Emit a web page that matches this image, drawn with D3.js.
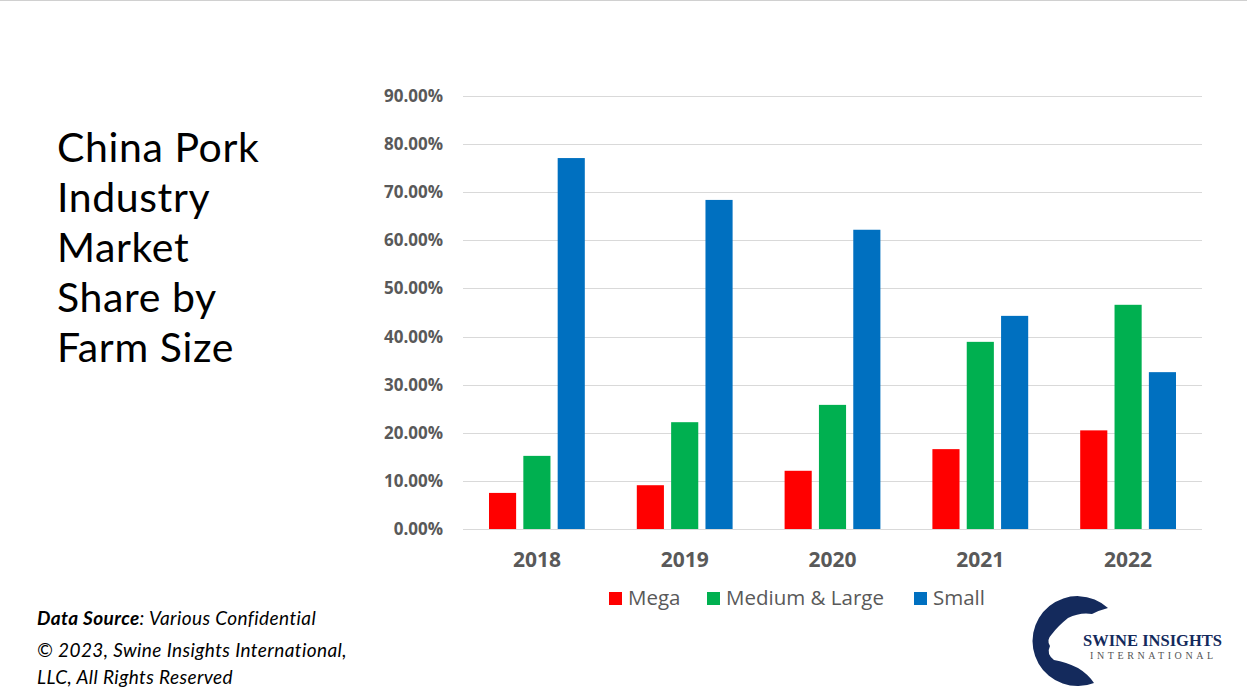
<!DOCTYPE html>
<html>
<head>
<meta charset="utf-8">
<script src="https://cdn.jsdelivr.net/npm/d3@7"></script>
<style>
  body { margin: 0; background: #fff; }
  svg { display: block; }
</style>
</head>
<body>
<svg width="1247" height="700"></svg>
<script>
// data
var years = ["2018", "2019", "2020", "2021", "2022"];
var seriesNames = ["Mega", "Medium & Large", "Small"];
var mega = [7.5, 9.1, 12.1, 16.6, 20.5];
var mediumLarge = [15.2, 22.2, 25.8, 38.9, 46.6];
var small = [77.1, 68.4, 62.2, 44.3, 32.6];
var yTicks = [0, 10, 20, 30, 40, 50, 60, 70, 80, 90];
var colors = ["#ff0000", "#00b050", "#0070c0"];

var titleLines = ["China Pork", "Industry", "Market", "Share by", "Farm Size"];

var svg = d3.select("svg");

// thin border at top
svg.append("line")
    .attr("x1", 0).attr("x2", 1247).attr("y1", 0.5).attr("y2", 0.5)
    .attr("stroke", "#d0d0d0");

// title on the left
svg.append("g").selectAll("text")
    .data(titleLines)
    .enter()
    .append("text")
    .attr("x", 57)
    .attr("y", function (d, i) { return 162 + i * 50; })
    .style("font-family", "Lato, 'Open Sans', sans-serif")
    .style("font-size", "41px")
    .style("letter-spacing", "0.6px")
    .attr("fill", "#000")
    .text(function (d) { return d; });

// chart area
var margin = { top: 96, left: 463 },
    width = 1202 - 463,
    height = 529 - 96;

var g = svg.append("g")
    .attr("transform", "translate(" + margin.left + "," + margin.top + ")");

var x0 = d3.scaleBand()
    .domain(years)
    .range([0, width])
    .paddingInner(0)
    .paddingOuter(0);

var x1 = d3.scaleBand()
    .domain(seriesNames)
    .range([26, x0.bandwidth() - 26])
    .paddingInner(0.21);

var y = d3.scaleLinear()
    .domain([0, 90])
    .range([height, 0]);

// gridlines
g.append("g")
    .selectAll("line")
    .data(yTicks)
    .enter()
    .append("line")
    .attr("x1", 0).attr("x2", width)
    .attr("y1", function (d) { return Math.round(y(d)) + 0.5; })
    .attr("y2", function (d) { return Math.round(y(d)) + 0.5; })
    .attr("stroke", "#d9d9d9")
    .attr("stroke-width", 1);

// y axis labels
var yAxis = g.append("g")
    .call(d3.axisLeft(y).tickValues(yTicks).tickSize(0).tickPadding(20)
        .tickFormat(function (d) { return d.toFixed(2) + "%"; }));
yAxis.select(".domain").remove();
yAxis.selectAll("text")
    .style("font-family", "'Open Sans', sans-serif")
    .style("font-size", "17px")
    .style("font-weight", "bold")
    .attr("fill", "#595959");

// x axis labels
var xAxis = g.append("g")
    .attr("transform", "translate(0," + height + ")")
    .call(d3.axisBottom(x0).tickSize(0).tickPadding(23));
xAxis.select(".domain").remove();
xAxis.selectAll("text")
    .style("font-family", "'Open Sans', sans-serif")
    .style("font-size", "21px")
    .style("font-weight", "bold")
    .attr("fill", "#595959");

// bars
var rows = years.map(function (yr, i) {
    return { year: yr, values: [mega[i], mediumLarge[i], small[i]] };
});

var groups = g.selectAll(".grp")
    .data(rows)
    .enter()
    .append("g")
    .attr("transform", function (d) { return "translate(" + x0(d.year) + ",0)"; });

groups.selectAll("rect")
    .data(function (d) { return d.values.map(function (v, j) { return { name: seriesNames[j], v: v, c: colors[j] }; }); })
    .enter()
    .append("rect")
    .attr("x", function (d) { return x1(d.name); })
    .attr("y", function (d) { return y(d.v); })
    .attr("width", x1.bandwidth())
    .attr("height", function (d) { return height - y(d.v); })
    .attr("fill", function (d) { return d.c; });

// legend
var legendX = [609, 707, 914];
var legend = svg.append("g").selectAll("g")
    .data(seriesNames)
    .enter()
    .append("g")
    .attr("transform", function (d, i) { return "translate(" + legendX[i] + ",592)"; });
legend.append("rect")
    .attr("width", 13).attr("height", 13)
    .attr("fill", function (d, i) { return colors[i]; });
legend.append("text")
    .attr("x", 19).attr("y", 13)
    .style("font-family", "'Open Sans', sans-serif")
    .style("font-size", "20.5px")
    .attr("fill", "#595959")
    .text(function (d) { return d; });

// footer
var foot = svg.append("g")
    .style("font-family", "Lato, 'Open Sans', sans-serif")
    .style("font-size", "19px")
    .style("font-style", "italic")
    .style("letter-spacing", "0.4px")
    .attr("fill", "#000");
var f1 = foot.append("text").attr("x", 37).attr("y", 625);
f1.append("tspan").style("font-weight", "bold").text("Data Source");
f1.append("tspan").text(": Various Confidential");
foot.append("text").attr("x", 37).attr("y", 657).text("\u00a9 2023, Swine Insights International,");
foot.append("text").attr("x", 37).attr("y", 684).text("LLC, All Rights Reserved");

// logo
var logo = svg.append("g");
logo.append("path")
    .attr("d", "M1108,608 A45,45 0 1 0 1094,683 Q1088,674 1078,668 Q1066,662 1054,660 Q1046,654 1050,646 Q1046,640 1052,634 Q1058,626 1068,618 Q1080,612 1092,614 Q1100,610 1108,608 Z")
    .attr("fill", "#142a5c");
logo.append("text")
    .attr("x", 1083).attr("y", 646)
    .style("font-family", "'Liberation Serif', serif")
    .style("font-weight", "bold")
    .style("font-size", "16.5px")
    .attr("fill", "#142a5c")
    .text("SWINE INSIGHTS");
logo.append("text")
    .attr("x", 1090).attr("y", 659)
    .style("font-family", "'Liberation Serif', serif")
    .style("font-size", "10px")
    .style("letter-spacing", "3.6px")
    .attr("fill", "#555")
    .text("INTERNATIONAL");
</script>
</body>
</html>
